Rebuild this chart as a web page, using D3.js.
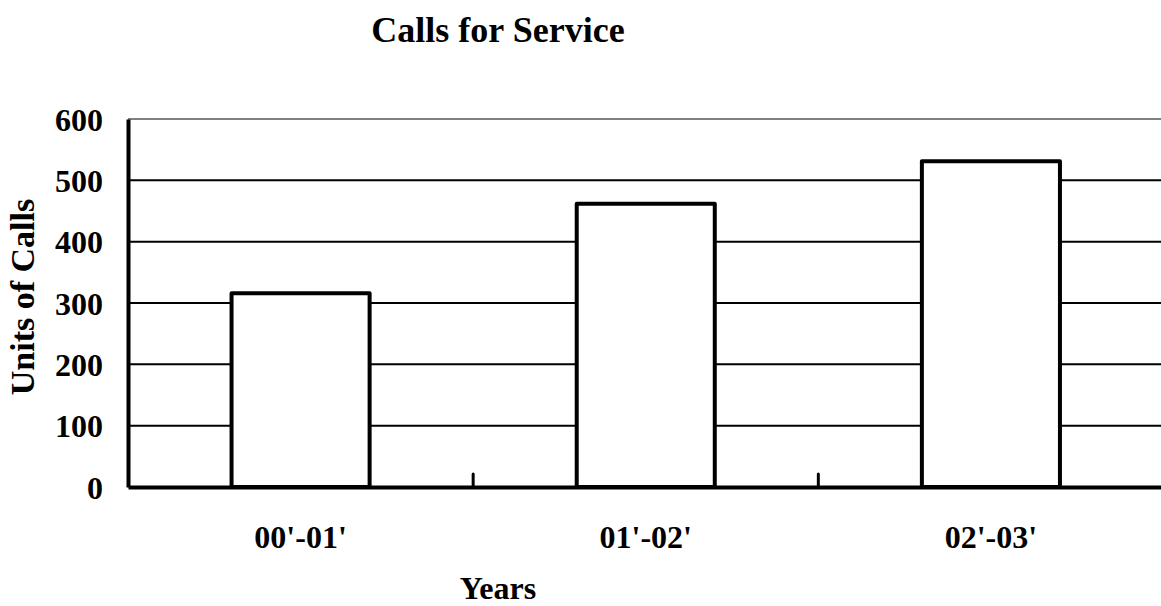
<!doctype html>
<html lang='en'>
  <head>
    <meta charset='utf-8' />
    <style>
      * { padding: 0; margin: 0; }
      body { background: #fff; }
      svg { display: block; }
      text { font-family: 'Liberation Serif', 'Times New Roman', serif; font-weight: bold; fill: #000; }
    </style>
    <title>Calls for Service</title>
  </head>
  <body>
    <div id='container'></div>
    <script src='https://d3js.org/d3.v7.min.js'></script>
    <script type='text/javascript'>

      var years = ["00'-01'", "01'-02'", "02'-03'"];
      var calls = [316, 462, 531];
      var yTicks = [0, 100, 200, 300, 400, 500, 600];

      const svg_width = 1161,
            svg_height = 606;

      var plot_left = 128, plot_right = 1163.5, plot_top = 119, plot_bottom = 487;

      var svg = d3.select('#container').append('svg')
          .attr('width', svg_width)
          .attr('height', svg_height);

      var x = d3.scaleBand().domain(years).range([plot_left, plot_right]).padding(0);
      var y = d3.scaleLinear().domain([0, 600]).range([plot_bottom, plot_top]);

      var bar_width = x.bandwidth() * 0.4;

      // gridlines
      svg.selectAll('line.grid')
        .data(yTicks.filter(function(d) { return d > 0; }))
        .enter()
        .append('line')
        .attr('class', 'grid')
        .attr('x1', plot_left)
        .attr('x2', svg_width)
        .attr('y1', function(d) { return y(d); })
        .attr('y2', function(d) { return y(d); })
        .attr('stroke', function(d) { return d === 600 ? '#808080' : '#000'; })
        .attr('stroke-width', 2);

      // bars
      svg.selectAll('rect')
        .data(calls)
        .enter()
        .append('rect')
        .attr('x', function(d, i) { return x(years[i]) + (x.bandwidth() - bar_width) / 2; })
        .attr('y', function(d) { return y(d); })
        .attr('width', bar_width)
        .attr('height', function(d) { return plot_bottom - y(d); })
        .attr('fill', '#fff')
        .attr('stroke', '#000')
        .attr('stroke-width', 4)
        .attr('stroke-linejoin', 'round');

      // y axis
      var yAxis = svg.append('g')
        .attr('transform', 'translate(' + plot_left + ',0)')
        .call(d3.axisLeft(y).tickValues(yTicks).tickSize(0).tickPadding(25));
      yAxis.select('.domain').attr('stroke', '#000').attr('stroke-width', 4);
      yAxis.selectAll('text')
        .style('font-size', '32px')
        .attr('dy', '0.35em');

      // x axis
      var xAxis = svg.append('g')
        .attr('transform', 'translate(0,' + plot_bottom + ')')
        .call(d3.axisBottom(x).tickSize(0).tickPadding(38));
      xAxis.select('.domain').attr('stroke', '#000').attr('stroke-width', 4);
      xAxis.selectAll('text').style('font-size', '32px');

      // tick marks between categories
      svg.selectAll('line.xtick')
        .data(years.slice(1).concat(['end']))
        .enter()
        .append('line')
        .attr('class', 'xtick')
        .attr('x1', function(d) { return d === 'end' ? plot_right : x(d); })
        .attr('x2', function(d) { return d === 'end' ? plot_right : x(d); })
        .attr('y1', plot_bottom)
        .attr('y2', plot_bottom - 13)
        .attr('stroke', '#000')
        .attr('stroke-width', 3)
        .attr('stroke-linecap', 'round');

      svg.append('text')
        .attr('x', 498)
        .attr('y', 42)
        .attr('text-anchor', 'middle')
        .style('font-size', '36px')
        .text('Calls for Service');

      svg.append('text')
        .attr('x', 498)
        .attr('y', 599)
        .attr('text-anchor', 'middle')
        .style('font-size', '32px')
        .text('Years');

      svg.append('text')
        .attr('transform', 'translate(34,297) rotate(-90)')
        .attr('text-anchor', 'middle')
        .style('font-size', '34px')
        .text('Units of Calls');
    </script>
  </body>
</html>
